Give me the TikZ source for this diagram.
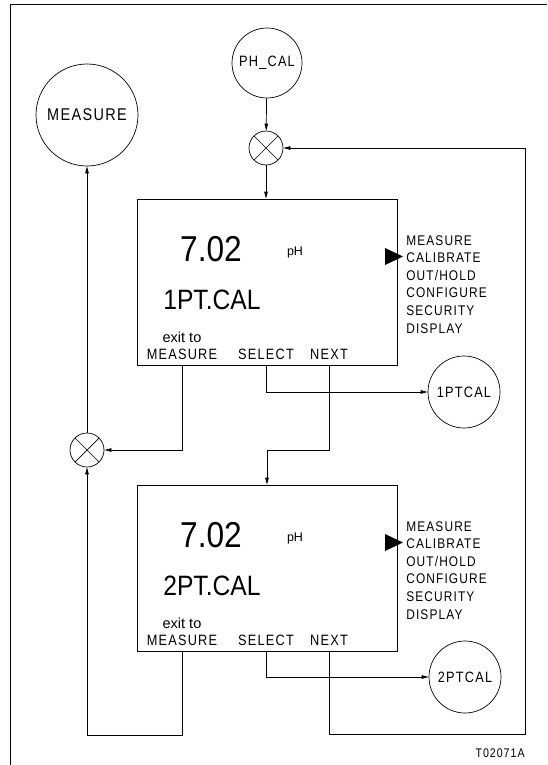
\documentclass[tikz,border=0pt]{standalone}
\usepackage{fontspec}
\setmainfont{Liberation Sans}
\newfontfamily\spaced[LetterSpace=8, FakeStretch=0.85]{Liberation Sans}
\newfontfamily\narrow[FakeStretch=0.88]{Liberation Sans}
\usetikzlibrary{arrows.meta}

\begin{document}
\begin{tikzpicture}[
  x=1pt, y=-1pt, line width=0.7pt, >={Triangle[length=7pt,width=3.5pt]},
  state/.style={draw, circle, inner sep=0pt, font=\spaced\fontsize{15}{15}\selectfont},
  junc/.style={draw, circle, minimum size=34pt, inner sep=0pt,
               path picture={\draw (path picture bounding box.north west) -- (path picture bounding box.south east)
                                   (path picture bounding box.north east) -- (path picture bounding box.south west);}},
  screen/.style={draw, minimum width=260pt, minimum height=166pt, inner sep=0pt},
  big/.style={font=\narrow\fontsize{36}{36}\selectfont, anchor=base, inner sep=0pt},
  mode/.style={font=\narrow\fontsize{28}{28}\selectfont, anchor=base west, inner sep=0pt},
  unit/.style={font=\fontsize{12.5}{12.5}\selectfont, anchor=base, inner sep=0pt},
  exit/.style={font=\fontsize{14.5}{14.5}\selectfont, anchor=base, inner sep=0pt},
  key/.style={font=\spaced\fontsize{15}{15}\selectfont, anchor=base, inner sep=0pt},
  menu/.style={font=\spaced\fontsize{14}{17.6}\selectfont, align=left, anchor=north west, inner sep=0pt},
  tag/.style={font=\spaced\fontsize{12.5}{12.5}\selectfont, anchor=base east, inner sep=0pt}]
\useasboundingbox (0,0) rectangle (547,765);
% ---------------- frame
\draw[line width=1pt] (10,765) -- (10,5) -- (547,5);
% ---------------- states and junctions
\node[state, minimum size=102pt, font=\spaced\fontsize{17}{17}\selectfont] (measure) at (87,115) {MEASURE};
\node[state, minimum size=70pt]  (phcal)   at (267,63)  {PH\_CAL};
\node[junc] (xtop)  at (266,148) {};
\node[junc] (xleft) at (87,450)  {};
\node[state, minimum size=72pt] (pt1) at (464,392) {1PTCAL};
\node[state, minimum size=72pt] (pt2) at (465,677) {2PTCAL};
% ---------------- screen 1
\node[screen] (scr1) at (267,282) {};
\node[big]  (val1)  at (211,261) {7.02};
\node[unit] (ph1)   at (295,255) {pH};
\node[mode] (mode1) at (163,309) {1PT.CAL};
\node[exit] (exit1) at (182,342) {exit to};
\node[key]  (meas1) at (182,359) {MEASURE};
\node[key]  (sel1)  at (266,359) {SELECT};
\node[key]  (next1) at (329,359) {NEXT};
\fill (385,248) -- (403,256.5) -- (385,265) -- cycle;
\node[menu] (menu1) at (406,235) {MEASURE\\CALIBRATE\\OUT/HOLD\\CONFIGURE\\SECURITY\\DISPLAY};
% ---------------- screen 2
\node[screen] (scr2) at (267,568) {};
\node[big]  (val2)  at (211,547) {7.02};
\node[unit] (ph2)   at (295,541) {pH};
\node[mode] (mode2) at (163,595) {2PT.CAL};
\node[exit] (exit2) at (182,628) {exit to};
\node[key]  (meas2) at (182,645) {MEASURE};
\node[key]  (sel2)  at (266,645) {SELECT};
\node[key]  (next2) at (329,645) {NEXT};
\fill (385,534) -- (403,542.5) -- (385,551) -- cycle;
\node[menu] (menu2) at (406,521) {MEASURE\\CALIBRATE\\OUT/HOLD\\CONFIGURE\\SECURITY\\DISPLAY};
\node[tag] (fig) at (525,757) {T02071A};
% ---------------- edges
\draw[->] (phcal) -- (xtop);
\draw[->] (xtop) -- (xtop |- scr1.north);
\draw[->] (meas1 |- scr1.south) |- (xleft);
\draw[->] (sel1 |- scr1.south) |- (pt1);
\draw[->] (next1 |- scr1.south) -- (next1 |- xleft) -| (scr2.north);
\draw[->] (xleft) -- (measure);
\draw[->] (meas2 |- scr2.south) -- ++(0,84) -| (xleft);
\draw[->] (sel2 |- scr2.south) |- (pt2);
\coordinate (ret) at (525,734);
\draw[->] (next2 |- scr2.south) |- (ret) |- (xtop);
\end{tikzpicture}
\end{document}
